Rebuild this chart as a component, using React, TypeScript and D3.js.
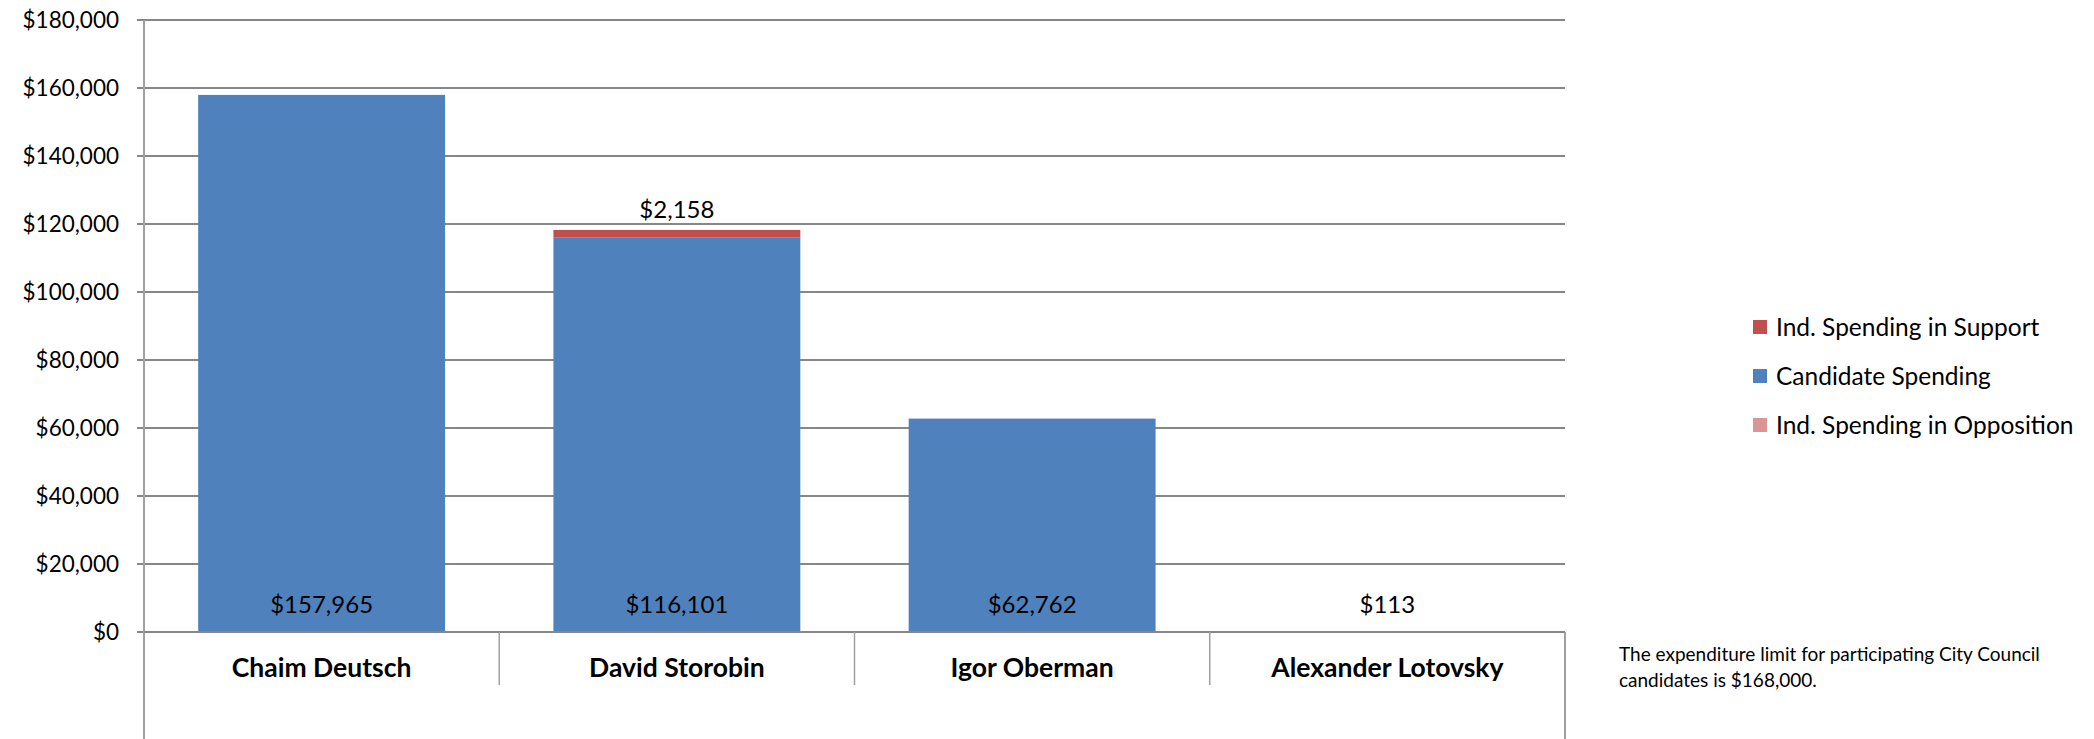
import React from "react";
import * as d3 from "d3";

const candidates = ["Chaim Deutsch", "David Storobin", "Igor Oberman", "Alexander Lotovsky"];
const candidateSpending = [157965, 116101, 62762, 113];
const supportSpending = [0, 2158, 0, 0];
const oppositionSpending = [0, 0, 0, 0];
const yTicks = [0, 20000, 40000, 60000, 80000, 100000, 120000, 140000, 160000, 180000];
const legendItems = [
  { name: "Ind. Spending in Support", color: "#C0504D" },
  { name: "Candidate Spending", color: "#4F81BD" },
  { name: "Ind. Spending in Opposition", color: "#D99694" },
];
const noteLines = ["The expenditure limit for participating City Council", "candidates is $168,000."];

const W = 2094;
const H = 739;
const left = 144;
const right = 1565;
const top = 20;
const bottom = 632;
const FONT = "Lato, 'Open Sans', sans-serif";

export default function App() {
  const x = d3.scaleBand<string>().domain(candidates).range([left, right]).paddingInner(0.305).paddingOuter(0.1525);
  const band = d3.scaleBand<string>().domain(candidates).range([left, right]);
  const y = d3.scaleLinear().domain([0, 180000]).range([bottom, top]);
  const fmt = (v: number) => "$" + d3.format(",")(v);

  const rows = candidates.map((c, i) => ({
    c,
    opp: oppositionSpending[i],
    cand: candidateSpending[i],
    sup: supportSpending[i],
  }));
  const stack = d3.stack<any>().keys(["opp", "cand", "sup"])(rows);
  const colors: Record<string, string> = { opp: "#D99694", cand: "#4F81BD", sup: "#C0504D" };

  return (
    <svg width={W} height={H} style={{ position: "absolute", left: 0, top: 0, background: "#fff" }}>
      {yTicks.map((t) => (
        <g key={t}>
          <line x1={left - 7} x2={right} y1={y(t)} y2={y(t)} stroke="#878787" strokeWidth={2} />
          <text x={119} y={y(t)} dy="0.35em" textAnchor="end" fontFamily={FONT} fontSize={22.5} fill="#000">
            {fmt(t)}
          </text>
        </g>
      ))}
      {stack.map((s) =>
        s.map((d, i) => {
          const h = y(d[0]) - y(d[1]);
          if (h <= 0) return null;
          return (
            <rect
              key={s.key + i}
              x={x(candidates[i])}
              width={x.bandwidth()}
              y={y(d[1])}
              height={h}
              fill={colors[s.key]}
            />
          );
        })
      )}
      {/* axes */}
      <line x1={left} x2={left} y1={top} y2={H} stroke="#A0A0A0" strokeWidth={2} />
      <line x1={right} x2={right} y1={bottom} y2={H} stroke="#A0A0A0" strokeWidth={2} />
      <line x1={left} x2={right} y1={bottom} y2={bottom} stroke="#878787" strokeWidth={2} />
      {candidates.slice(1).map((c) => (
        <line key={c} x1={band(c)} x2={band(c)} y1={bottom} y2={685} stroke="#A0A0A0" strokeWidth={1.5} />
      ))}
      {candidates.map((c) => (
        <text
          key={c}
          x={(band(c) as number) + band.bandwidth() / 2}
          y={668}
          dy="0.35em"
          textAnchor="middle"
          fontFamily={FONT}
          fontWeight="bold"
          fontSize={26.5}
        >
          {c}
        </text>
      ))}
      {/* candidate spending labels */}
      {candidates.map((c, i) => (
        <text
          key={"l" + c}
          x={(x(c) as number) + x.bandwidth() / 2}
          y={605}
          dy="0.35em"
          textAnchor="middle"
          fontFamily={FONT}
          fontSize={24}
        >
          {fmt(candidateSpending[i])}
        </text>
      ))}
      {candidates.map((c, i) =>
        supportSpending[i] > 0 ? (
          <text
            key={"s" + c}
            x={(x(c) as number) + x.bandwidth() / 2}
            y={y(candidateSpending[i] + supportSpending[i]) - 20}
            dy="0.35em"
            textAnchor="middle"
            fontFamily={FONT}
            fontSize={24}
          >
            {fmt(supportSpending[i])}
          </text>
        ) : null
      )}
      {/* legend */}
      {legendItems.map((l, i) => (
        <g key={l.name} transform={`translate(1753, ${327 + i * 49})`}>
          <rect x={0} y={-7} width={14} height={14} fill={l.color} />
          <text x={23} y={0} dy="0.35em" fontFamily={FONT} fontSize={24.5}>
            {l.name}
          </text>
        </g>
      ))}
      {noteLines.map((t, i) => (
        <text key={t} x={1619} y={654 + i * 26} dy="0.35em" fontFamily={FONT} fontSize={19}>
          {t}
        </text>
      ))}
    </svg>
  );
}
